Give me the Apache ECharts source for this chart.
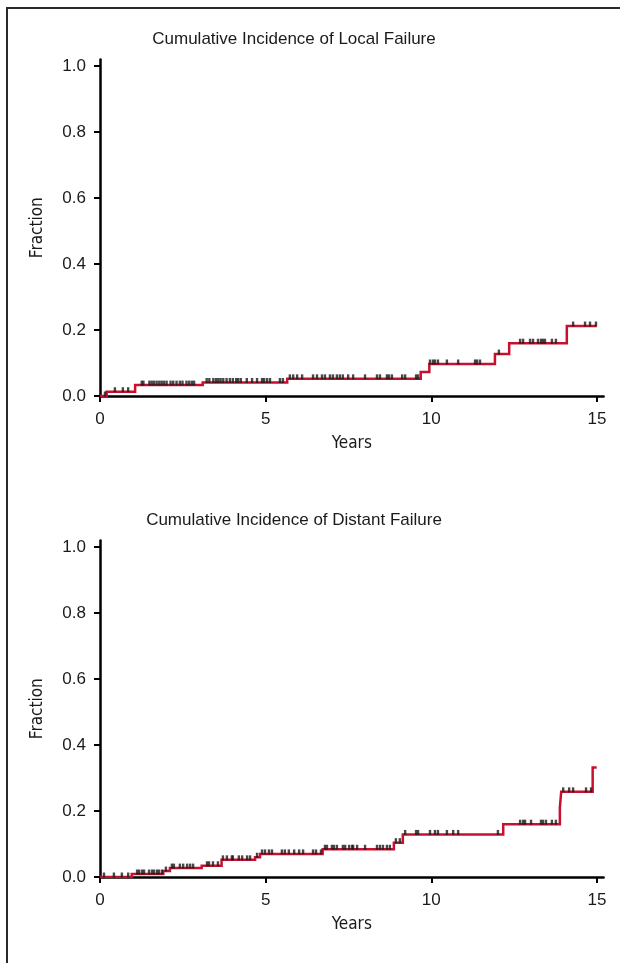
<!DOCTYPE html>
<html>
<head>
<meta charset="utf-8">
<script src="https://cdn.jsdelivr.net/npm/echarts@6/dist/echarts.min.js"></script>
<style>html,body{margin:0;padding:0;background:#fff}#c{width:620px;height:963px}</style>
</head>
<body>
<div id="c"></div>
<script>
// ---- Data ----
const titles = ['Cumulative Incidence of Local Failure', 'Cumulative Incidence of Distant Failure'];
const xTicks = [0, 5, 10, 15];
const yTicks = [0, 0.2, 0.4, 0.6, 0.8, 1.0];

// Local failure: step times (years) and cumulative incidence
const localTimes  = [0, 0.2, 1.06, 3.1, 5.65, 9.68, 9.94, 11.92, 12.35, 14.09, 14.99];
const localValues = [0, 0.013, 0.033, 0.041, 0.052, 0.073, 0.097, 0.127, 0.16, 0.212, 0.212];
// Local failure: censoring times (years)
const localCensor = [0.15, 0.45, 0.69, 0.85,
  1.26, 1.31, 1.49, 1.56, 1.63, 1.71, 1.79, 1.86, 1.93, 2.01, 2.13, 2.21, 2.31, 2.41, 2.49, 2.61, 2.69, 2.77, 2.84,
  3.22, 3.30, 3.42, 3.50, 3.57, 3.64, 3.72, 3.82, 3.92, 4.01, 4.11, 4.17, 4.25, 4.43, 4.59, 4.74, 4.89, 4.95, 5.04, 5.13, 5.43, 5.52,
  5.73, 5.83, 5.95, 6.10, 6.43, 6.55, 6.70, 6.79, 6.94, 7.03, 7.15, 7.24, 7.33, 7.49, 7.64, 8.00, 8.36, 8.45, 8.66, 8.72, 8.81, 9.12, 9.21, 9.54, 9.60,
  9.96, 10.05, 10.11, 10.20, 10.47, 10.81, 11.32, 11.38, 11.47,
  12.04,
  12.68, 12.77, 12.98, 13.07, 13.22, 13.31, 13.37, 13.43, 13.64, 13.76,
  14.28, 14.64, 14.79, 14.97];

// Distant failure
const distTimes  = [0, 0.96, 1.91, 2.11, 3.07, 3.67, 4.68, 4.83, 6.72, 8.87, 9.14, 12.17, 13.88, 13.92, 14.87, 14.99];
const distValues = [0, 0.009, 0.018, 0.027, 0.034, 0.052, 0.06, 0.07, 0.084, 0.104, 0.129, 0.16, 0.21, 0.258, 0.332, 0.332];
const distCensor = [0.12, 0.42, 0.66, 0.85,
  1.12, 1.18, 1.27, 1.33, 1.48, 1.57, 1.63, 1.72, 1.78, 1.87,
  1.99,
  2.17, 2.23, 2.41, 2.51, 2.63, 2.72, 2.81,
  3.23, 3.29, 3.41, 3.56,
  3.71, 3.83, 3.98, 4.01, 4.19, 4.29, 4.44, 4.53,
  4.74,
  4.89, 4.98, 5.10, 5.19, 5.49, 5.58, 5.70, 5.86, 6.01, 6.13, 6.43, 6.52, 6.67,
  6.79, 6.85, 7.00, 7.06, 7.15, 7.33, 7.40, 7.52, 7.61, 7.64, 7.76, 8.00, 8.36, 8.45, 8.54, 8.66, 8.75,
  8.93, 9.05,
  9.21, 9.54, 9.60, 9.96, 10.11, 10.20, 10.47, 10.66, 10.81, 12.01,
  12.68, 12.77, 12.83, 13.01, 13.31, 13.37, 13.46, 13.64, 13.76,
  13.98, 14.16, 14.28, 14.67, 14.82];

// ---- Helpers ----
function stepAt(times, values, t) {
  let v = values[0];
  for (let i = 0; i < times.length; i++) { if (times[i] <= t) v = values[i]; }
  return v;
}
function pairs(times, values) { return times.map((t, i) => [t, values[i]]); }
function censorPts(c, times, values) { return c.map(t => [t, stepAt(times, values, t)]); }

const RED = '#c8102e';
const TXT = '#1a1a1a';
const labelFont = 'Liberation Sans, Arial, Helvetica, sans-serif';
const condFont = 'Liberation Sans Narrow, DejaVu Sans Condensed, Arial Narrow, sans-serif';

const grids = [
  { left: 100, width: 503.6, top: 59.4, height: 336.6 },
  { left: 100, width: 503.6, top: 540.4, height: 336.6 }
];

function xAxis(i) {
  return {
    gridIndex: i, type: 'value', min: 0, max: 15.2,
    name: 'Years', nameLocation: 'middle', nameGap: 39,
    nameTextStyle: { fontFamily: condFont, fontSize: 17, color: TXT },
    axisLine: { lineStyle: { color: '#000', width: 2.5 } },
    axisTick: { customValues: xTicks, length: 6, lineStyle: { color: '#000', width: 2 } },
    axisLabel: { customValues: xTicks, fontFamily: labelFont, fontSize: 17, color: TXT, margin: 15 },
    splitLine: { show: false }
  };
}
function yAxis(i) {
  return {
    gridIndex: i, type: 'value', min: 0, max: 1.02,
    name: 'Fraction', nameLocation: 'middle', nameGap: 54, nameRotate: 90,
    nameTextStyle: { fontFamily: condFont, fontSize: 17, color: TXT, padding: [0, 0, 0, 0] },
    axisLine: { show: true, lineStyle: { color: '#000', width: 2.5 } },
    axisTick: { show: true, customValues: yTicks, length: 6, lineStyle: { color: '#000', width: 2 } },
    axisLabel: { customValues: yTicks, formatter: v => v.toFixed(1), fontFamily: labelFont, fontSize: 17, color: TXT, margin: 14 },
    splitLine: { show: false }
  };
}

function lineSeries(i, times, values) {
  return { type: 'line', xAxisIndex: i, yAxisIndex: i, step: 'end', data: pairs(times, values),
    symbol: 'none', lineStyle: { color: RED, width: 2.5, join: 'miter' }, z: 2, animation: false };
}
function censorSeries(i, c, times, values) {
  return { type: 'scatter', xAxisIndex: i, yAxisIndex: i, data: censorPts(c, times, values),
    symbol: 'rect', symbolSize: [2.4, 5], symbolOffset: [0, -2],
    itemStyle: { color: '#1a1a1a' }, z: 3, animation: false };
}

const chart = echarts.init(document.getElementById('c'), null, { renderer: 'canvas' });
chart.setOption({
  backgroundColor: '#fff',
  animation: false,
  title: [
    { text: titles[0], left: 289, top: 26, textAlign: 'center', textStyle: { fontFamily: labelFont, fontSize: 17, fontWeight: 'normal', color: TXT } },
    { text: titles[1], left: 289, top: 507, textAlign: 'center', textStyle: { fontFamily: labelFont, fontSize: 17, fontWeight: 'normal', color: TXT } }
  ],
  grid: grids,
  xAxis: [xAxis(0), xAxis(1)],
  yAxis: [yAxis(0), yAxis(1)],
  series: [
    lineSeries(0, localTimes, localValues),
    censorSeries(0, localCensor, localTimes, localValues),
    lineSeries(1, distTimes, distValues),
    censorSeries(1, distCensor, distTimes, distValues)
  ],
  graphic: [
    { type: 'polyline', shape: { points: [[7, 1000], [7, 8], [640, 8]] }, style: { stroke: '#2a2a2a', lineWidth: 2, fill: null } }
  ]
});
</script>
</body>
</html>
